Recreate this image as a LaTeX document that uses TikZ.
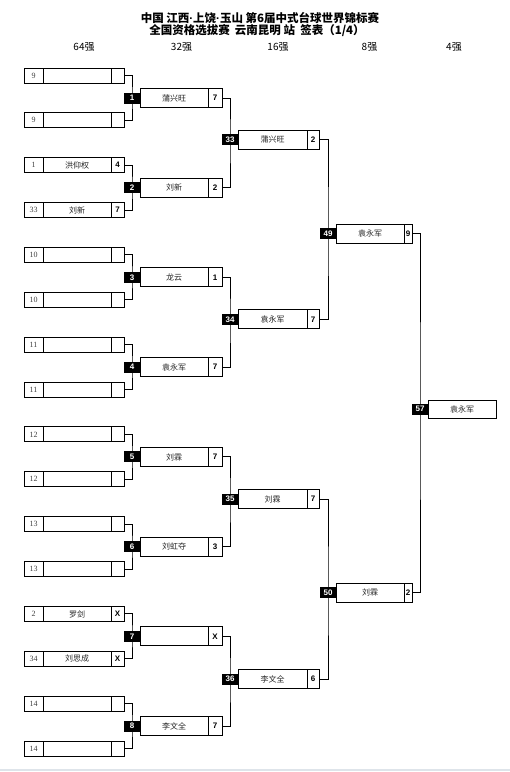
\documentclass[tikz,border=0pt]{standalone}
\usepackage{fontspec}
\setmainfont{Liberation Serif}
\setsansfont{Liberation Sans}
\newfontfamily\cjk{Noto Sans CJK SC}
\usetikzlibrary{positioning,backgrounds}
\definecolor{footline}{RGB}{222,228,234}
\newcommand{\middot}{{\sffamily\bfseries ·}}

\tikzset{
  cell/.style={draw, line width=1pt, fill=white, inner sep=0pt, outer sep=0pt, minimum height=15pt},
  seedcell/.style={cell, minimum width=19pt, text=black!75, font=\rmfamily\fontsize{8}{8}\selectfont},
  namecell/.style={cell, minimum width=68pt, text=black!85, font=\cjk\fontsize{8}{8}\selectfont},
  scorecell/.style={cell, minimum width=13pt, font=\sffamily\bfseries\fontsize{8}{8}\selectfont},
  badge/.style={fill=black, text=white, inner sep=0pt, outer sep=0pt, minimum width=16pt, minimum height=11pt, font=\sffamily\bfseries\fontsize{8}{8}\selectfont},
  link/.style={line width=1pt},
  head/.style={font=\cjk\fontsize{10}{10}\selectfont},
  banner/.style={font=\cjk\bfseries\fontsize{11.5}{12}\selectfont},
}

\begin{document}
\begin{tikzpicture}[x=1pt,y=-1pt]
  \useasboundingbox (0,0) rectangle (510,772);
  % title
  \node[banner] (title1) at (260,18) {中国 江西\middot 上饶\middot 玉山 第6届中式台球世界锦标赛};
  \node[banner] (title2) at (257,31) {全国资格选拔赛\hspace{0.45em}云南昆明 站\hspace{0.45em}签表（1/4）};
  % round headings
  \foreach \x/\t [count=\k] in {84/64强, 181.5/32强, 278/16强, 369.5/8强, 454/4强}
    \node[head] (h\k) at (\x,47) {\t};

  % 64
  \foreach \i/\sd/\nm/\sc [evaluate=\i as \yy using 75.5+44.87*\i] in
    {0/9/{}/{}, 1/9/{}/{}, 2/1/洪仰权/4, 3/33/刘新/7, 4/10/{}/{}, 5/10/{}/{},
     6/11/{}/{}, 7/11/{}/{}, 8/12/{}/{}, 9/12/{}/{}, 10/13/{}/{}, 11/13/{}/{},
     12/2/罗剑/X, 13/34/刘思成/X, 14/14/{}/{}, 15/14/{}/{}}{
    \node[seedcell, anchor=west] (s\i) at (24,\yy) {\sd};
    \node[namecell, right=0pt of s\i] (n\i) {\nm};
    \node[scorecell, right=0pt of n\i] (r\i) {\sc};
  }

  % 32
  \foreach \m/\nm/\sc [evaluate=\m as \yy using 98+89.74*(\m-1)] in
    {1/蒲兴旺/7, 2/刘新/2, 3/龙云/1, 4/袁永军/7, 5/刘霖/7, 6/刘虹夺/3, 7/{}/X, 8/李文全/7}{
    \node[namecell, minimum height=19pt, anchor=west] (m\m) at (140,\yy) {\nm};
    \node[scorecell, minimum height=19pt, minimum width=14pt, right=0pt of m\m] (ms\m) {\sc};
    \node[badge, left=0pt of m\m] (b\m) {\m};
  }

  % 16
  \foreach \m/\yy/\nm/\sc in {33/139.5/蒲兴旺/2, 34/319.3/袁永军/7, 35/499/刘霖/7, 36/679/李文全/6}{
    \node[namecell, minimum height=19pt, minimum width=69pt, anchor=west] (m\m) at (238,\yy) {\nm};
    \node[scorecell, minimum height=19pt, minimum width=12pt, right=0pt of m\m] (ms\m) {\sc};
    \node[badge, left=0pt of m\m] (b\m) {\m};
  }

  % 8
  \foreach \m/\yy/\nm/\sc in {49/233.5/袁永军/9, 50/592.5/刘霖/2}{
    \node[namecell, minimum height=19pt, anchor=west] (m\m) at (336,\yy) {\nm};
    \node[scorecell, minimum height=19pt, minimum width=8pt, right=0pt of m\m] (ms\m) {\sc};
    \node[badge, left=0pt of m\m] (b\m) {\m};
  }

  % 4
  \node[namecell, minimum height=18pt, anchor=west] (m57) at (428,409) {袁永军};
  \node[badge, left=0pt of m57] (b57) {57};

  % brackets
  \begin{scope}[on background layer]
    \foreach \k [evaluate=\k as \a using int(2*\k-2), evaluate=\k as \b using int(2*\k-1)] in {1,...,8}
      \draw[link] (r\a.east) -| (b\k.center) |- (r\b.east);
    \foreach \k [evaluate=\k as \a using int(2*\k-1), evaluate=\k as \b using int(2*\k), evaluate=\k as \c using int(32+\k)] in {1,...,4}
      \draw[link] (ms\a.east) -| (b\c.center) |- (ms\b.east);
    \draw[link] (ms33.east) -| (b49.center) |- (ms34.east);
    \draw[link] (ms35.east) -| (b50.center) |- (ms36.east);
    \draw[link] (ms49.east) -| (b57.center) |- (ms50.east);
  \end{scope}

  % page foot
  \draw[footline, line width=1.5pt] (0,770) -- (510,770);
\end{tikzpicture}
\end{document}
